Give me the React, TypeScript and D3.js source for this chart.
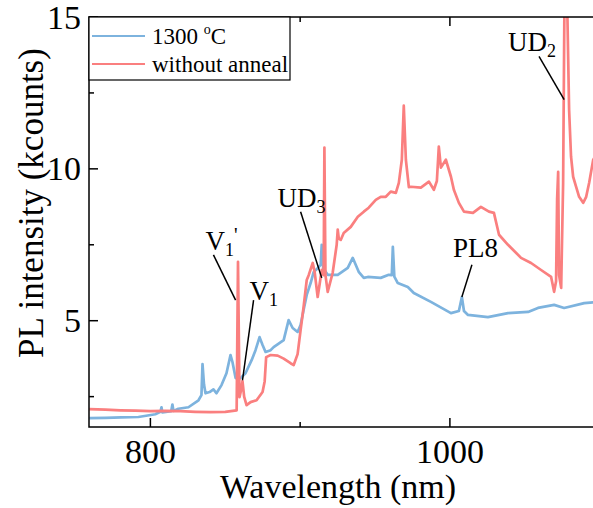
import React from "react";
import * as d3 from "d3";

const W = 593;
const H = 508;

// [wavelength nm, intensity kcounts]
const annealed1300: [number, number][] = [
  [759.2, 1.79], [770, 1.8], [780.6, 1.82], [792, 1.83], [803.3, 1.92], [806.7, 2.0], [807.4, 2.15],
  [808, 1.98], [813.9, 2.02], [814.7, 2.24], [815.4, 2.03], [818.7, 2.1], [825.4, 2.15], [832.1, 2.38],
  [834.1, 2.55], [834.8, 3.57], [835.8, 2.9], [836.8, 2.61], [839.5, 2.65], [842.1, 2.74], [844.1, 2.61],
  [847.5, 2.88], [850.8, 3.27], [853.5, 3.87], [854.8, 3.64], [856.9, 3.11], [860.2, 3.11], [863.5, 3.27],
  [867.6, 3.7], [870.2, 4.03], [872.9, 4.46], [874.9, 4.2], [876.9, 3.97], [880.3, 4.03], [882.3, 4.13],
  [889.0, 4.36], [892.3, 5.02], [895, 4.76], [898.3, 4.63], [900.3, 4.86], [902.3, 5.35], [904.4, 5.85],
  [907.0, 6.24], [909.0, 6.6], [911.7, 6.73], [913.7, 6.84], [914.4, 7.5], [915.4, 6.73], [918.4, 6.51],
  [925.1, 6.51], [931.8, 6.74], [935.1, 7.07], [939.1, 6.61], [942.5, 6.41], [945.2, 6.44], [953.8, 6.41],
  [959.2, 6.51], [961.2, 6.5], [961.9, 7.43], [962.9, 6.45], [965.2, 6.24], [971.9, 6.11], [975.9, 5.91],
  [987.3, 5.62], [1000.7, 5.25], [1006.0, 5.32], [1008.0, 5.78], [1009.4, 5.32], [1012.1, 5.19],
  [1025.4, 5.12], [1038.8, 5.25], [1052.2, 5.29], [1058.8, 5.42], [1069.6, 5.52], [1076.3, 5.42],
  [1089.7, 5.58], [1098.4, 5.62],
];

const withoutAnneal: [number, number][] = [
  [759.2, 2.09], [770, 2.07], [780, 2.05], [790, 2.04], [800, 2.02], [810, 2.03], [820, 2.02], [830, 2.0],
  [840, 1.99], [850, 2.0], [857.6, 2.05], [858.5, 6.94], [859.5, 2.48], [860.5, 2.7], [861.5, 3.01],
  [862.6, 2.5], [864.2, 2.22], [866.9, 2.32], [870.9, 2.38], [874.9, 2.65], [876.3, 3.0], [877.3, 3.8],
  [880.3, 3.87], [885, 3.85], [889, 3.75], [893.6, 3.6], [895.7, 3.54], [898.3, 3.9], [900.3, 4.69],
  [902.3, 5.45], [904.4, 6.34], [905.7, 6.5], [908.4, 6.9], [909.7, 6.6], [911.7, 5.78], [913.0, 6.2],
  [914.4, 6.67], [915.7, 6.5], [916.2, 10.7], [916.9, 6.5], [918.4, 5.95], [921.7, 6.57], [924.4, 7.5],
  [925.1, 8.0], [925.8, 7.7], [927.1, 7.66], [929.1, 7.89], [933.8, 8.09], [938.5, 8.42], [942.5, 8.59],
  [945.8, 8.72], [950.5, 8.98], [953.8, 9.08], [957.2, 9.08], [960.5, 9.25], [963.9, 9.21], [965.9, 9.54],
  [967.9, 10.3], [969.2, 12.08], [970.6, 10.3], [972.6, 9.4], [973.9, 9.41], [980.6, 9.38], [986.0, 9.58],
  [989.3, 9.31], [991.3, 9.6], [992.6, 10.73], [994.0, 10.04], [997.3, 10.3], [1000.7, 9.74],
  [1002.7, 9.3], [1006.0, 8.88], [1009.4, 8.59], [1015.4, 8.55], [1020.7, 8.75], [1026.1, 8.59],
  [1029.4, 8.55], [1032.8, 7.83], [1038.8, 7.5], [1047.5, 7.07], [1054.2, 6.9], [1060.9, 6.67],
  [1067.6, 6.44], [1069.6, 5.95], [1070.9, 6.3], [1071.6, 9.0], [1072.3, 9.9], [1072.9, 6.5], [1074.3, 6.08],
  [1075.6, 9.5], [1076.5, 15.5], [1078.3, 15.5], [1079.6, 11.95], [1080.9, 10.4], [1082.3, 9.74],
  [1084.3, 9.41], [1086.3, 9.08], [1089.0, 8.88], [1091.0, 9.08], [1093.0, 9.54], [1095.7, 10.3],
  [1098.4, 10.5],
];

const xMajor = [800, 1000];
const xMinor = [900];
const yMajor = [5, 10, 15];
const yMinor = [2.5, 7.5, 12.5];

// label, sub, text pos, leader from, leader to (data units)
const notes = [
  { main: "UD", sub: "2", prime: "", at: [1038.8, 13.87], from: [1059.5, 13.7], to: [1076.3, 12.28] },
  { main: "UD", sub: "3", prime: "", at: [884.9, 8.75], from: [900.3, 8.59], to: [914.4, 6.41] },
  { main: "V", sub: "1", prime: "'", at: [836.8, 7.33], from: [842.1, 7.17], to: [856.9, 5.68] },
  { main: "V", sub: "1", prime: "", at: [866.2, 5.68], from: [868.9, 5.68], to: [861.5, 3.04] },
  { main: "PL8", sub: "", prime: "", at: [1002.0, 7.1], from: [1014.7, 6.84], to: [1008.0, 5.78] },
];

const BLUE = "#7db3de";
const RED = "#fa7f7f";
const FONT = "'Liberation Serif', 'Times New Roman', serif";

const App = () => {
  const left = 89;
  const top = 17;
  const bottom = 427;

  const x = d3.scaleLinear().domain([759, 1100]).range([left, left + 341 * 1.4975]);
  const y = d3.scaleLinear().domain([1.5, 15]).range([bottom, top]);
  const right = x(1100);

  const line = d3
    .line<[number, number]>()
    .x((d) => x(d[0]))
    .y((d) => y(d[1]));

  return (
    <svg
      width={W}
      height={H}
      style={{ position: "absolute", left: 0, top: 0, background: "#fff" }}
      fontFamily={FONT}
    >
      <defs>
        <clipPath id="plot">
          <rect x={left} y={top} width={right - left} height={bottom - top} />
        </clipPath>
      </defs>

      <g clipPath="url(#plot)" fill="none" strokeWidth={2.7} strokeLinejoin="round">
        <path d={line(annealed1300) || ""} stroke={BLUE} />
        <path d={line(withoutAnneal) || ""} stroke={RED} />
      </g>

      {/* frame */}
      <rect x={left} y={top} width={right - left} height={bottom - top} fill="none" stroke="#000" strokeWidth={1.5} />

      {/* x ticks, bottom and top, inward */}
      {xMajor.map((t) => (
        <g key={"xM" + t}>
          <line x1={x(t)} x2={x(t)} y1={bottom} y2={bottom - 9} stroke="#000" strokeWidth={1.5} />
          <line x1={x(t)} x2={x(t)} y1={top} y2={top + 9} stroke="#000" strokeWidth={1.5} />
          <text x={x(t)} y={463} textAnchor="middle" fontSize={34}>
            {t}
          </text>
        </g>
      ))}
      {xMinor.map((t) => (
        <g key={"xm" + t}>
          <line x1={x(t)} x2={x(t)} y1={bottom} y2={bottom - 5} stroke="#000" strokeWidth={1.5} />
          <line x1={x(t)} x2={x(t)} y1={top} y2={top + 5} stroke="#000" strokeWidth={1.5} />
        </g>
      ))}

      {/* y ticks */}
      {yMajor.map((t) => (
        <g key={"yM" + t}>
          <line x1={left} x2={left + 9} y1={y(t)} y2={y(t)} stroke="#000" strokeWidth={1.5} />
          <text x={81} y={y(t)} dy="0.34em" textAnchor="end" fontSize={34}>
            {t}
          </text>
        </g>
      ))}
      {yMinor.map((t) => (
        <line key={"ym" + t} x1={left} x2={left + 5} y1={y(t)} y2={y(t)} stroke="#000" strokeWidth={1.5} />
      ))}

      {/* axis titles */}
      <text x={(left + 593) / 2 - 3} y={498} textAnchor="middle" fontSize={34}>
        Wavelength (nm)
      </text>
      <text transform={`translate(43, ${(top + bottom) / 2 - 19}) rotate(-90)`} textAnchor="middle" fontSize={35}>
        PL intensity (kcounts)
      </text>

      {/* annotations */}
      {notes.map((n, i) => (
        <g key={i}>
          <line
            x1={x(n.from[0])}
            y1={y(n.from[1])}
            x2={x(n.to[0])}
            y2={y(n.to[1])}
            stroke="#000"
            strokeWidth={1.5}
          />
          <text x={x(n.at[0])} y={y(n.at[1])} fontSize={27}>
            {n.main}
            {n.sub && (
              <tspan fontSize={18} dy={6}>
                {n.sub}
              </tspan>
            )}
            {n.prime && (
              <tspan fontSize={20} dy={-14}>
                {n.prime}
              </tspan>
            )}
          </text>
        </g>
      ))}

      {/* legend */}
      <rect x={left} y={top} width={201} height={63} fill="#fff" stroke="#000" strokeWidth={1.2} />
      <line x1={92} x2={145} y1={36} y2={36} stroke={BLUE} strokeWidth={2.2} />
      <line x1={92} x2={145} y1={64} y2={64} stroke={RED} strokeWidth={2.2} />
      <text x={152} y={44} fontSize={23}>
        1300{" "}
        <tspan fontSize={14} dy={-10}>
          o
        </tspan>
        <tspan dy={10}>C</tspan>
      </text>
      <text x={152} y={72} fontSize={23}>
        without anneal
      </text>
    </svg>
  );
};

export default App;
